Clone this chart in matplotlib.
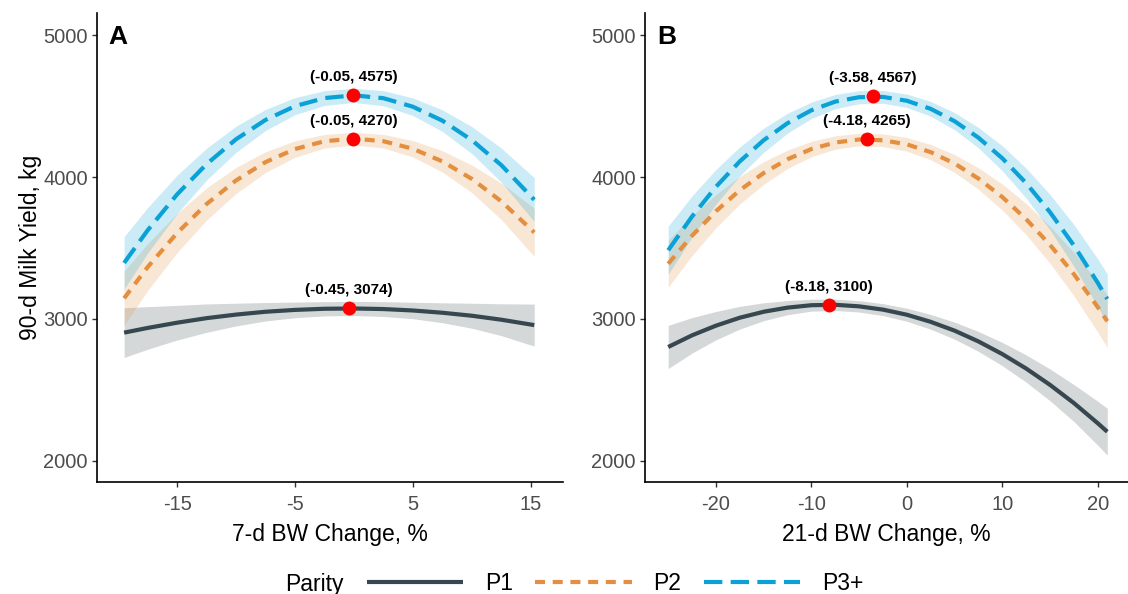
import matplotlib
matplotlib.use("Agg")
import matplotlib.pyplot as plt
import numpy as np
from matplotlib.lines import Line2D

plt.rcParams["font.family"] = ["Liberation Sans", "DejaVu Sans"]
plt.rcParams["axes.unicode_minus"] = False

# ---- panel A: 7-d BW change ----
xa = [-19.5, -17.5, -15, -12.5, -10, -7.5, -5, -2.5, 0, 2.5, 5, 7.5, 10, 12.5, 15.3]
a_p1 = [2904, 2937, 2974, 3006, 3031, 3051, 3064, 3072, 3074, 3070, 3060, 3044, 3023, 2995, 2957]
a_p1_hw = [175, 150, 122, 100, 80, 65, 55, 50, 50, 52, 58, 70, 88, 112, 148]
a_p2 = [3146, 3366, 3606, 3810, 3976, 4105, 4197, 4252, 4270, 4252, 4199, 4110, 3987, 3829, 3610]
a_p2_hw = [190, 165, 138, 113, 92, 73, 58, 48, 45, 48, 58, 75, 97, 128, 170]
a_p3 = [3395, 3625, 3878, 4091, 4266, 4402, 4499, 4556, 4575, 4555, 4495, 4397, 4260, 4084, 3840]
a_p3_hw = [185, 160, 135, 112, 92, 74, 60, 52, 50, 53, 62, 76, 95, 120, 155]
a_peak_x = [-0.45, -0.05, -0.05]
a_peak_y = [3074, 4270, 4575]

# ---- panel B: 21-d BW change ----
xb = [-25, -22.5, -20, -17.5, -15, -12.5, -10, -7.5, -5, -2.5, 0, 2.5, 5, 7.5, 10,
      12.5, 15, 17.5, 20, 21]
b_p1 = [2803, 2885, 2953, 3009, 3051, 3080, 3097, 3100, 3089, 3066, 3030, 2980, 2918,
        2842, 2753, 2651, 2536, 2408, 2266, 2206]
b_p1_hw = [152, 125, 100, 80, 63, 50, 42, 40, 40, 42, 46, 52, 60, 70, 82, 96, 112, 130,
           155, 165]
b_p2 = [3389, 3587, 3759, 3907, 4028, 4125, 4197, 4243, 4264, 4259, 4230, 4175, 4095,
        3989, 3859, 3703, 3522, 3316, 3084, 2984]
b_p2_hw = [165, 140, 117, 97, 80, 65, 54, 47, 44, 45, 48, 54, 63, 76, 92, 110, 130, 153,
           177, 186]
b_p3 = [3484, 3722, 3931, 4110, 4259, 4379, 4470, 4531, 4562, 4564, 4537, 4480, 4393,
        4277, 4132, 3957, 3752, 3518, 3255, 3141]
b_p3_hw = [170, 145, 122, 102, 85, 70, 58, 50, 46, 45, 47, 52, 60, 72, 88, 105, 125, 147,
           168, 176]
b_peak_x = [-8.18, -4.18, -3.58]
b_peak_y = [3100, 4265, 4567]

parity = ["P1", "P2", "P3+"]
colors = ["#37474F", "#E38F3F", "#0AA1D6"]
dashes = [(None, None), (2.4, 1.85), (4.4, 2.0)]
LW = 3.0

fig = plt.figure(figsize=(11.28, 5.94), dpi=100)
W, H = 1128, 594


def px_axes(l, t, r, b):
    return fig.add_axes([l / W, (H - b) / H, (r - l) / W, (b - t) / H])


axA = px_axes(97, 13, 563, 482)
axB = px_axes(645, 13, 1128, 482)

panels = [
    (axA, xa, [a_p1, a_p2, a_p3], [a_p1_hw, a_p2_hw, a_p3_hw], a_peak_x, a_peak_y,
     "A", "7-d BW Change, %", (-21.8, 17.74), [-15, -5, 5, 15]),
    (axB, xb, [b_p1, b_p2, b_p3], [b_p1_hw, b_p2_hw, b_p3_hw], b_peak_x, b_peak_y,
     "B", "21-d BW Change, %", (-27.43, 23.17), [-20, -10, 0, 10, 20]),
]

for ax, x, ys, hws, pkx, pky, letter, xlabel, xlim, xticks in panels:
    x = np.array(x)
    for y, hw, c in zip(ys, hws, colors):
        y, hw = np.array(y), np.array(hw)
        ax.fill_between(x, y - hw, y + hw, color=c, alpha=0.21, lw=0, zorder=1)
    for y, c, d in zip(ys, colors, dashes):
        line, = ax.plot(x, y, color=c, lw=LW, solid_capstyle="butt", zorder=2)
        if d[0] is not None:
            line.set_dashes(d)
            line.set_dash_capstyle("butt")
    ax.plot(pkx, pky, "o", color="#FF0000", ms=10, mec="none", zorder=4)
    for px, py in zip(pkx, pky):
        ax.annotate(f"({px:.2f}, {py:.0f})", (px, py), xytext=(0, 13),
                    textcoords="offset points", ha="center", va="center",
                    fontsize=11, fontweight="bold", color="black", zorder=5)
    ax.text(0.025, 0.949, letter, transform=ax.transAxes, fontsize=19,
            fontweight="bold", va="center", ha="left")
    ax.set_xlim(*xlim)
    ax.set_ylim(1852, 5155)
    ax.set_xticks(xticks)
    ax.set_yticks([2000, 3000, 4000, 5000])
    ax.set_xlabel(xlabel, fontsize=16.5, labelpad=6)
    for s in ["top", "right"]:
        ax.spines[s].set_visible(False)
    for s in ["left", "bottom"]:
        ax.spines[s].set_linewidth(1.2)
    ax.tick_params(labelsize=14.5, labelcolor="#4D4D4D", color="#333333",
                   length=3.5, width=1.0, pad=3)
    ax.tick_params(axis="x", pad=6)

axA.set_ylabel("90-d Milk Yield, kg", fontsize=16.5, labelpad=1)

# legend along the bottom
fig.text(285 / W, (H - 584) / H, "Parity", fontsize=16.5, ha="left", va="center")
handles = []
for c, d in zip(colors, dashes):
    h = Line2D([], [], color=c, lw=LW, solid_capstyle="butt")
    if d[0] is not None:
        h.set_dashes(d)
        h.set_dash_capstyle("butt")
    handles.append(h)
fig.legend(handles, parity, loc="center left", bbox_to_anchor=(367 / W, (H - 584) / H),
           ncol=3, frameon=False, fontsize=16.5, handlelength=4.19,
           handletextpad=0.96, columnspacing=0.98, borderpad=0, borderaxespad=0)

fig.savefig("out.png", dpi=100)
